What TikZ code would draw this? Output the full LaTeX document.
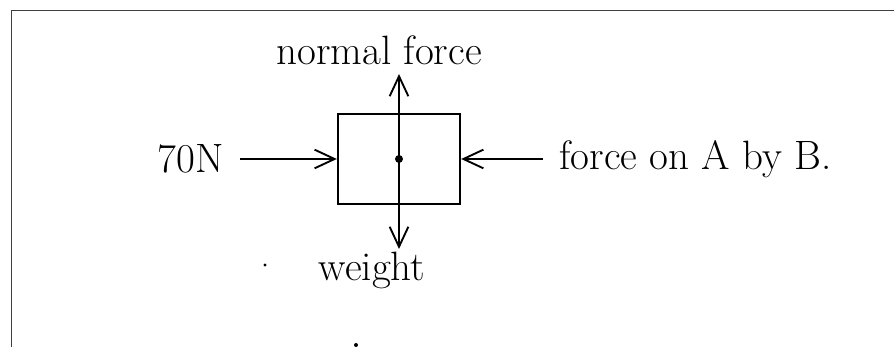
\documentclass[tikz,border=0pt]{standalone}
\usepackage{tikz}
\usetikzlibrary{arrows.meta,positioning}
\tikzset{
  blockbox/.style={draw, line width=2pt, minimum width=36.6mm, minimum height=27mm, inner sep=0pt},
  lbl/.style={font=\fontsize{35}{38}\selectfont, inner ysep=3pt, inner xsep=14pt},
  force/.style={-{Straight Barb[length=6mm, width=5.6mm, line width=1.6pt]}, line width=1.6pt},
  frame/.style={draw=black!75, line width=0.8pt}
}
\begin{document}
\begin{tikzpicture}[x=0.3mm, y=-0.3mm]
  \useasboundingbox (0,0) rectangle (894,347);
  \draw[frame] (11,347) -- (11,10) -- (894,10);
  % the block and its centre
  \node[blockbox] (block) at (399,159) {};
  \fill (block.center) circle (1.2mm);
  % forces
  \coordinate (uptip) at (399,74);
  \coordinate (downtip) at (399,249);
  \node[lbl] (normal) at (379,50) {normal force};
  \node[lbl] (weight) at (372,270) {weight};
  \node[lbl, left=29mm of block] (push) {70N};
  \node[lbl, right=24.5mm of block] (byB) {force on A by B.};
  \draw[force] (block.center) -- (uptip);
  \draw[force] (block.center) -- (downtip);
  \draw[force] (push.east) -- (block.west |- push.east);
  \draw[force] (byB.west) -- (block.east |- byB.west);
  % stray marks
  \fill (265,265) circle (0.5mm);
  \fill (356,345) circle (0.6mm);
\end{tikzpicture}
\end{document}
